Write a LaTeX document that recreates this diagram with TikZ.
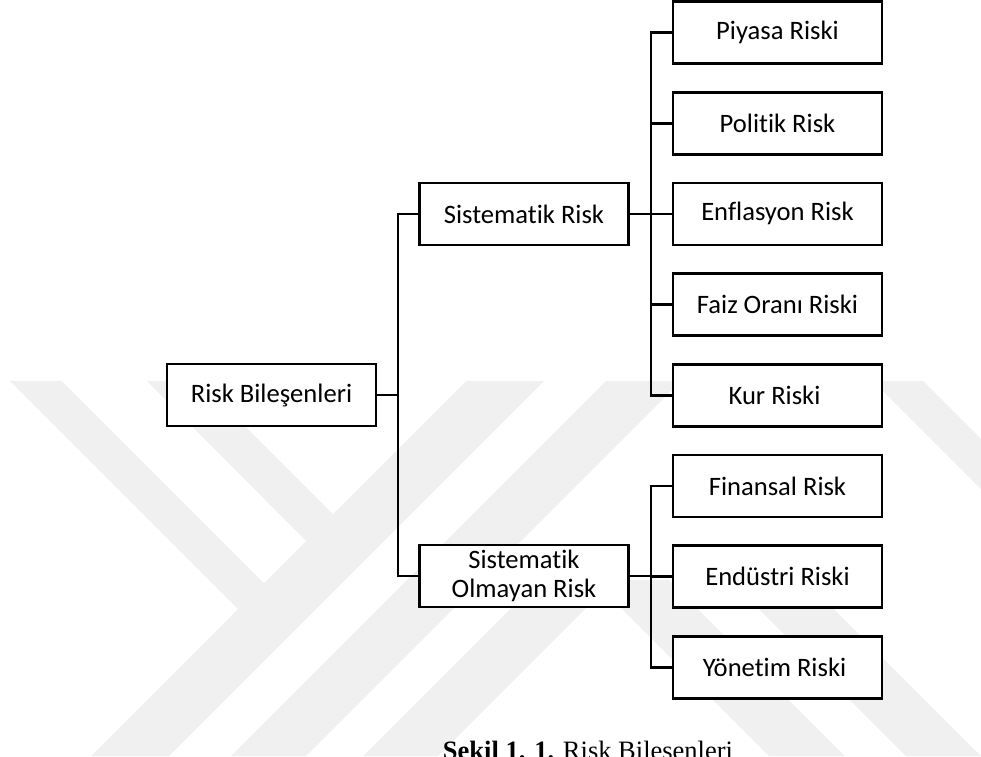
\documentclass[tikz,border=0pt]{standalone}
\usepackage{fontspec}
\usepackage{tikz}
\usetikzlibrary{positioning}
\newfontfamily\boxfont[Ligatures=NoCommon]{Carlito}
\newfontfamily\capfont{Liberation Serif}
\definecolor{markGray}{RGB}{240,240,240}

\begin{document}
\begin{tikzpicture}[x=0.5pt, y=-0.5pt,
    riskbox/.style={draw, fill=white, line width=1.4pt, minimum width=104.5pt, minimum height=31pt,
        inner sep=0pt, align=center, font=\boxfont\fontsize{13.3}{14.5}\selectfont},
    link/.style={line width=1.4pt}]
    \useasboundingbox (0,0) rectangle (981,756);

    % Watermark
    \fill[markGray] (10,381) -- (62,381) -- (264,583) -- (238,609) -- cycle;
    \fill[markGray] (147,381) -- (200,381) -- (333,514) -- (306,541) -- cycle;
    \foreach \a/\b/\t in {91/169/381, 231/306/381, 363/438/600} {
        \fill[markGray] (\a,756) -- (\b,756) -- (\b+756-\t,\t) -- (\a+756-\t,\t) -- cycle;
    }
    \foreach \a/\b in {769/845, 906/981} {
        \fill[markGray] (\a,756) -- (\b,756) -- (\b-176,580) -- (\a-176,580) -- cycle;
    }
    \fill[markGray] (873,381) -- (923,381) -- (981,439) -- (981,489) -- cycle;

    % Root and second level
    \node[riskbox] (root) at (271.5,395) {Risk Bileşenleri};
    \node[riskbox] (sys) at (524,214) {Sistematik Risk};
    \node[riskbox] (uns) at (524,576) {Sistematik\\Olmayan Risk};

    \coordinate (rbus) at (398,395);
    \draw[link] (root.east) -- (rbus);
    \draw[link] (rbus) |- (sys.west);
    \draw[link] (rbus) |- (uns.west);

    % Systematic risks
    \coordinate (sbus) at (651,214);
    \draw[link] (sys.east) -- (sbus);
    \foreach \i/\name/\txt in {
        0/piy/Piyasa Riski,
        1/pol/Politik Risk,
        2/enf/Enflasyon Risk,
        3/faiz/Faiz Oranı Riski,
        4/kur/Kur Riski
    } {
        \node[riskbox] (\name) at (777.5,32.5+\i*90.7) {\txt};
        \draw[link] (sbus) |- (\name.west);
    }

    % Unsystematic risks
    \coordinate (ubus) at (651,576);
    \draw[link] (uns.east) -- (ubus);
    \foreach \i/\name/\txt in {
        5/fin/Finansal Risk,
        6/end/Endüstri Riski,
        7/yon/Yönetim Riski
    } {
        \node[riskbox] (\name) at (777.5,32.5+\i*90.7) {\txt};
        \draw[link] (ubus) |- (\name.west);
    }

    % Caption
    \node[anchor=base, font=\capfont\fontsize{13.25}{15}\selectfont] (cap) at (588,759)
        {\textbf{Şekil 1. 1.} Risk Bileşenleri};
\end{tikzpicture}
\end{document}
